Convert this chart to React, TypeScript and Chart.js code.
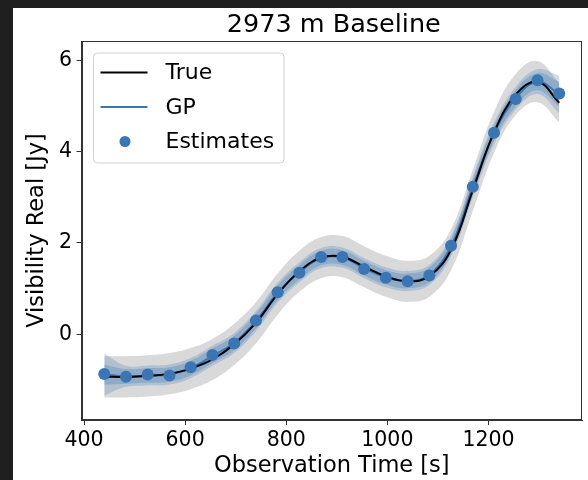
import React, { useEffect, useRef } from "react";
import { Chart, registerables } from "chart.js";

Chart.register(...registerables);

// ---------- data ----------
const times = [440, 483, 526, 569, 611, 654, 697, 740, 783, 826, 869, 911, 954, 997, 1040, 1083, 1126, 1169, 1211, 1254, 1297, 1340];

const estimates = [-0.87, -0.93, -0.88, -0.9, -0.72, -0.45, -0.2, 0.3, 0.92, 1.35, 1.69, 1.69, 1.43, 1.24, 1.16, 1.29, 1.94, 3.23, 4.41, 5.15, 5.56, 5.27];

const trueValues = [-0.93, -0.93, -0.91, -0.86, -0.75, -0.55, -0.22, 0.25, 0.88, 1.38, 1.68, 1.7, 1.48, 1.27, 1.16, 1.27, 1.85, 3.15, 4.42, 5.25, 5.53, 5.07];
const trueUpper = [-0.48, -0.48, -0.46, -0.41, -0.3, -0.1, 0.23, 0.7, 1.33, 1.83, 2.13, 2.15, 1.93, 1.72, 1.61, 1.72, 2.3, 3.6, 4.87, 5.7, 5.98, 5.5];
const trueLower = [-1.38, -1.38, -1.36, -1.31, -1.2, -1.0, -0.67, -0.2, 0.43, 0.93, 1.23, 1.25, 1.03, 0.82, 0.71, 0.82, 1.4, 2.7, 3.97, 4.8, 5.08, 4.64];

const gpMean = [-0.88, -0.92, -0.9, -0.88, -0.74, -0.47, -0.19, 0.29, 0.91, 1.36, 1.67, 1.68, 1.45, 1.25, 1.17, 1.3, 1.93, 3.22, 4.4, 5.17, 5.53, 5.25];
const gpInnerUpper = [-0.66, -0.76, -0.74, -0.72, -0.58, -0.31, -0.03, 0.45, 1.07, 1.52, 1.83, 1.84, 1.61, 1.41, 1.33, 1.46, 2.09, 3.39, 4.57, 5.35, 5.72, 5.52];
const gpInnerLower = [-1.1, -1.08, -1.06, -1.04, -0.9, -0.63, -0.35, 0.13, 0.75, 1.2, 1.51, 1.52, 1.29, 1.09, 1.01, 1.14, 1.77, 3.05, 4.23, 4.99, 5.34, 4.98];
const gpOuterUpper = [-0.42, -0.69, -0.68, -0.66, -0.52, -0.25, 0.03, 0.51, 1.13, 1.58, 1.89, 1.9, 1.67, 1.47, 1.39, 1.52, 2.15, 3.45, 4.64, 5.42, 5.8, 5.66];
const gpOuterLower = [-1.34, -1.15, -1.12, -1.1, -0.96, -0.69, -0.41, 0.07, 0.69, 1.14, 1.45, 1.46, 1.23, 1.03, 0.95, 1.08, 1.71, 2.99, 4.16, 4.92, 5.26, 4.84];

const xTicks = [400, 600, 800, 1000, 1200];
const yTicks = [0, 2, 4, 6];
const titleText = "2973 m Baseline";
const xLabel = "Observation Time [s]";
const yLabel = "Visibility Real [Jy]";
const legendLabels = ["True", "GP", "Estimates"];

const FONT = "'DejaVu Sans', sans-serif";
const BLUE = "rgb(58,118,180)";

export default function App() {
  const ref = useRef<HTMLCanvasElement | null>(null);

  useEffect(() => {
    if (!ref.current) return;
    const pts = (ys: number[]) => times.map((t, i) => ({ x: t, y: ys[i] }));
    const bandTop = (ys: number[], color: string, order: number) => ({
      data: pts(ys),
      borderWidth: 0,
      pointRadius: 0,
      fill: "+1",
      backgroundColor: color,
      tension: 0.4,
      order,
    });
    const bandBottom = (ys: number[], order: number) => ({
      data: pts(ys),
      borderWidth: 0,
      pointRadius: 0,
      fill: false,
      tension: 0.4,
      order,
    });

    const deco = {
      id: "deco",
      afterDraw(chart: any) {
        const { ctx, chartArea: a } = chart;
        ctx.save();
        // frame
        ctx.strokeStyle = "#333";
        ctx.lineWidth = 1;
        const l = Math.round(a.left) + 0.5;
        const t = Math.round(a.top) + 0.5;
        const r = Math.round(a.right) - 0.5;
        const b = Math.round(a.bottom) - 0.5;
        ctx.strokeRect(l, t, r - l, b - t);
        // title
        ctx.fillStyle = "#000";
        ctx.font = `25.5px ${FONT}`;
        ctx.textAlign = "center";
        ctx.textBaseline = "alphabetic";
        ctx.fillText(titleText, (a.left + a.right) / 2 + 2, 23.7);
        // legend
        const lx = a.left + 12;
        const ly = a.top + 12;
        ctx.beginPath();
        (ctx as any).roundRect(lx, ly, 190.5, 110, 4);
        ctx.fillStyle = "rgba(255,255,255,0.85)";
        ctx.fill();
        ctx.strokeStyle = "#d2d2d2";
        ctx.lineWidth = 1;
        ctx.stroke();
        const rows = [ly + 19.5, ly + 54, ly + 88.5];
        ctx.lineWidth = 2;
        ctx.strokeStyle = "#000";
        ctx.beginPath();
        ctx.moveTo(lx + 7, rows[0]);
        ctx.lineTo(lx + 54, rows[0]);
        ctx.stroke();
        ctx.strokeStyle = BLUE;
        ctx.beginPath();
        ctx.moveTo(lx + 7, rows[1]);
        ctx.lineTo(lx + 54, rows[1]);
        ctx.stroke();
        ctx.fillStyle = BLUE;
        ctx.beginPath();
        ctx.arc(lx + 31.5, rows[2], 5.5, 0, Math.PI * 2);
        ctx.fill();
        ctx.fillStyle = "#000";
        ctx.font = `22px ${FONT}`;
        ctx.textAlign = "left";
        ctx.textBaseline = "middle";
        legendLabels.forEach((lab, i) => ctx.fillText(lab, lx + 72, rows[i] + 1));
        ctx.restore();
      },
    };

    const chart = new Chart(ref.current, {
      type: "line",
      data: {
        datasets: [
          {
            label: "Estimates",
            data: pts(estimates),
            showLine: false,
            pointRadius: 6,
            pointBackgroundColor: BLUE,
            pointBorderWidth: 0,
            order: 0,
          },
          {
            label: "True",
            data: pts(trueValues),
            borderColor: "#000",
            borderWidth: 2,
            pointRadius: 0,
            fill: false,
            tension: 0.4,
            order: 1,
          },
          {
            label: "GP",
            data: pts(gpMean),
            borderColor: BLUE,
            borderWidth: 2,
            pointRadius: 0,
            fill: false,
            tension: 0.4,
            order: 2,
          },
          bandTop(gpInnerUpper, "rgba(58,118,180,0.3)", 3),
          bandBottom(gpInnerLower, 3),
          bandTop(gpOuterUpper, "rgba(58,118,180,0.25)", 4),
          bandBottom(gpOuterLower, 4),
          bandTop(trueUpper, "rgba(128,128,128,0.3)", 5),
          bandBottom(trueLower, 5),
        ] as any,
      },
      options: {
        animation: false,
        responsive: false,
        devicePixelRatio: 1,
        layout: { padding: { left: 0, right: 5, top: 33, bottom: 0 } },
        plugins: {
          legend: { display: false },
          tooltip: { enabled: false },
          title: { display: false },
        },
        scales: {
          x: {
            type: "linear",
            min: 395,
            max: 1385,
            afterBuildTicks: (s: any) => {
              s.ticks = xTicks.map((v) => ({ value: v }));
            },
            afterFit: (s: any) => {
              s.height = 60;
            },
            grid: { display: true, drawOnChartArea: false, drawTicks: true, tickLength: 5, tickColor: "#333", tickWidth: 1 },
            border: { display: true, color: "#333", width: 1 },
            ticks: {
              font: { family: FONT, size: 20.5 },
              color: "#000",
              padding: 3,
              maxRotation: 0,
              autoSkip: false,
              callback: (v: any) => String(v),
            },
            title: { display: true, text: xLabel, font: { family: FONT, size: 22.5 }, color: "#000", padding: { top: 2, bottom: 0 } },
          },
          y: {
            type: "linear",
            min: -1.875,
            max: 6.42,
            afterBuildTicks: (s: any) => {
              s.ticks = yTicks.map((v) => ({ value: v }));
            },
            afterFit: (s: any) => {
              s.width = 68.5;
            },
            grid: { display: true, drawOnChartArea: false, drawTicks: true, tickLength: 5, tickColor: "#333", tickWidth: 1 },
            border: { display: true, color: "#333", width: 1 },
            ticks: {
              font: { family: FONT, size: 20.5 },
              color: "#000",
              padding: 4.5,
              autoSkip: false,
              callback: (v: any) => String(v),
            },
            title: { display: true, text: yLabel, font: { family: FONT, size: 22.5 }, color: "#000", padding: { top: 10.5, bottom: 0 } },
          },
        },
      } as any,
      plugins: [deco],
    });
    return () => chart.destroy();
  }, []);

  return (
    <div style={{ position: "fixed", left: 0, top: 0, width: 588, height: 480, background: "#1f1f1f", overflow: "hidden" }}>
      <div style={{ position: "absolute", left: 13, top: 8, width: 575, height: 472, background: "#fff" }}>
        <canvas ref={ref} width={575} height={472} style={{ display: "block", width: 575, height: 472 }} />
      </div>
    </div>
  );
}
